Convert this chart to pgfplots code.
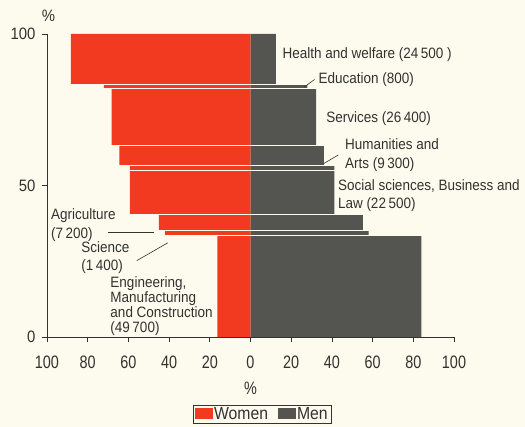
\documentclass[border=0pt]{standalone}
\usepackage{fontspec}
\setmainfont{Liberation Sans}[FakeStretch=0.9]
\newfontfamily\tickfont{Liberation Sans}[FakeStretch=0.8]
\usepackage{pgfplots}
\pgfplotsset{compat=1.18}
\definecolor{bg}{RGB}{252,251,238}
\definecolor{wred}{RGB}{241,58,32}
\definecolor{mgray}{RGB}{84,84,80}
\definecolor{txt}{RGB}{50,50,48}
\begin{document}
\begin{tikzpicture}[font=\fontsize{15}{18}\selectfont, text=txt]
\useasboundingbox (-47pt,-90pt) rectangle (478pt,337pt);
\fill[bg] (-47pt,-90pt) rectangle (478pt,337pt);
\begin{axis}[at={(0pt,0pt)}, anchor=south west, scale only axis,
  width=407pt, height=303pt, clip=false,
  xmin=-100, xmax=100, ymin=0, ymax=100,
  axis x line=bottom, axis y line=left,
  axis line style={-, draw=txt, line width=0.8pt},
  xtick={-100,-80,...,100},
  xticklabels={100,80,60,40,20,0,20,40,60,80,100},
  ytick={0,50,100},
  tick align=outside, major tick length=5pt,
  tick style={draw=txt, line width=0.8pt},
  yticklabel style={font=\fontsize{16.5}{19}\selectfont, text=txt, xshift=-3pt},
  /pgf/number format/assume math mode=true,
  xticklabel style={font=\tickfont\fontsize{18}{20}\selectfont, text=txt, yshift=-10pt},
  legend columns=2,
  legend style={at={(0.528,-0.254)}, anchor=center, draw=txt, fill=bg,
    font=\fontsize{17.5}{20}\selectfont, inner xsep=2pt, inner ysep=0pt,
    nodes={inner xsep=1pt, inner ysep=2pt},
    /tikz/every even column/.append style={column sep=9pt}},
  legend image code/.code={\fill[#1] (0pt,-5.5pt) rectangle (18pt,5.5pt);},
]
% women (left) outline of the stacked bands
\addplot[fill=wred, draw=none] coordinates {
 (0,0) (-16.3,0) (-16.3,33.6) (-42,33.6) (-42,35.2) (-45,35.2) (-45,40.5)
 (-59.3,40.5) (-59.3,56.6) (-64.4,56.6) (-64.4,63.3) (-68.3,63.3) (-68.3,82.0)
 (-72,82.0) (-72,83.2) (-88.3,83.2) (-88.3,100) (0,100) (0,0)};
\addlegendentry{Women}
% men (right)
\addplot[fill=mgray, draw=none] coordinates {
 (0,0) (84,0) (84,33.6) (58,33.6) (58,35.2) (55.2,35.2) (55.2,40.5)
 (41.2,40.5) (41.2,56.6) (36.1,56.6) (36.1,63.3) (32.2,63.3) (32.2,82.0)
 (28,82.0) (28,83.2) (12.5,83.2) (12.5,100) (0,100) (0,0)};
\addlegendentry{Men}
% separators
\addplot[bg, line width=1.1pt, forget plot] coordinates {(-90,33.6) (86,33.6)};
\addplot[bg, line width=1.1pt, forget plot] coordinates {(-90,35.2) (86,35.2)};
\addplot[bg, line width=1.1pt, forget plot] coordinates {(-90,40.5) (86,40.5)};
\addplot[bg, line width=1.1pt, forget plot] coordinates {(-90,54.9) (86,54.9)};
\addplot[bg, line width=1.1pt, forget plot] coordinates {(-90,56.6) (86,56.6)};
\addplot[bg, line width=1.1pt, forget plot] coordinates {(-90,63.3) (86,63.3)};
\addplot[bg, line width=1.1pt, forget plot] coordinates {(-90,82.0) (86,82.0)};
\addplot[bg, line width=1.1pt, forget plot] coordinates {(-90,83.2) (86,83.2)};
% labels
\node[anchor=west, inner sep=0pt] at (axis cs:15.7,93.1) {Health and welfare (24\,500 )};
\node[anchor=west, inner sep=0pt] at (axis cs:33.4,84.8) {Education (800)};
\draw[txt, line width=0.6pt] (axis cs:26.4,82.5) -- (axis cs:31.5,85.0);
\node[anchor=west, inner sep=0pt] at (axis cs:37.2,72) {Services (26\,400)};
\node[anchor=west, inner sep=0pt, align=left, font=\fontsize{15}{19}\selectfont] at (axis cs:46.4,59.9) {Humanities and\\Arts (9\,300)};
\draw[txt, line width=0.6pt] (axis cs:35.9,57.2) -- (axis cs:43.2,60.1);
\node[anchor=west, inner sep=0pt, align=left, font=\fontsize{15}{18}\selectfont] at (axis cs:42.9,46.5) {Social sciences, Business and\\Law (22\,500)};
\node[anchor=west, inner sep=0pt, align=left, font=\fontsize{15}{18.7}\selectfont] at (axis cs:-98.1,37) {Agriculture\\(7\,200)};
\draw[txt, line width=0.6pt] (axis cs:-69.8,34.6) -- (axis cs:-47.2,34.6);
\node[anchor=west, inner sep=0pt, align=left, font=\fontsize{15}{18.3}\selectfont] at (axis cs:-83.2,26.2) {Science\\(1\,400)};
\draw[txt, line width=0.6pt] (axis cs:-55.9,25.2) -- (axis cs:-40.6,31.1);
\node[anchor=west, inner sep=0pt, align=left, font=\fontsize{15}{14.7}\selectfont] at (axis cs:-68.9,10.2) {Engineering,\\Manufacturing\\and Construction\\(49\,700)};
\node[font=\fontsize{16.5}{19}\selectfont] at (axis cs:-99.3,106) {\%};
\node[font=\tickfont\fontsize{18}{20}\selectfont] at (axis cs:0,-16.8) {\%};
\end{axis}
\end{tikzpicture}
\end{document}
